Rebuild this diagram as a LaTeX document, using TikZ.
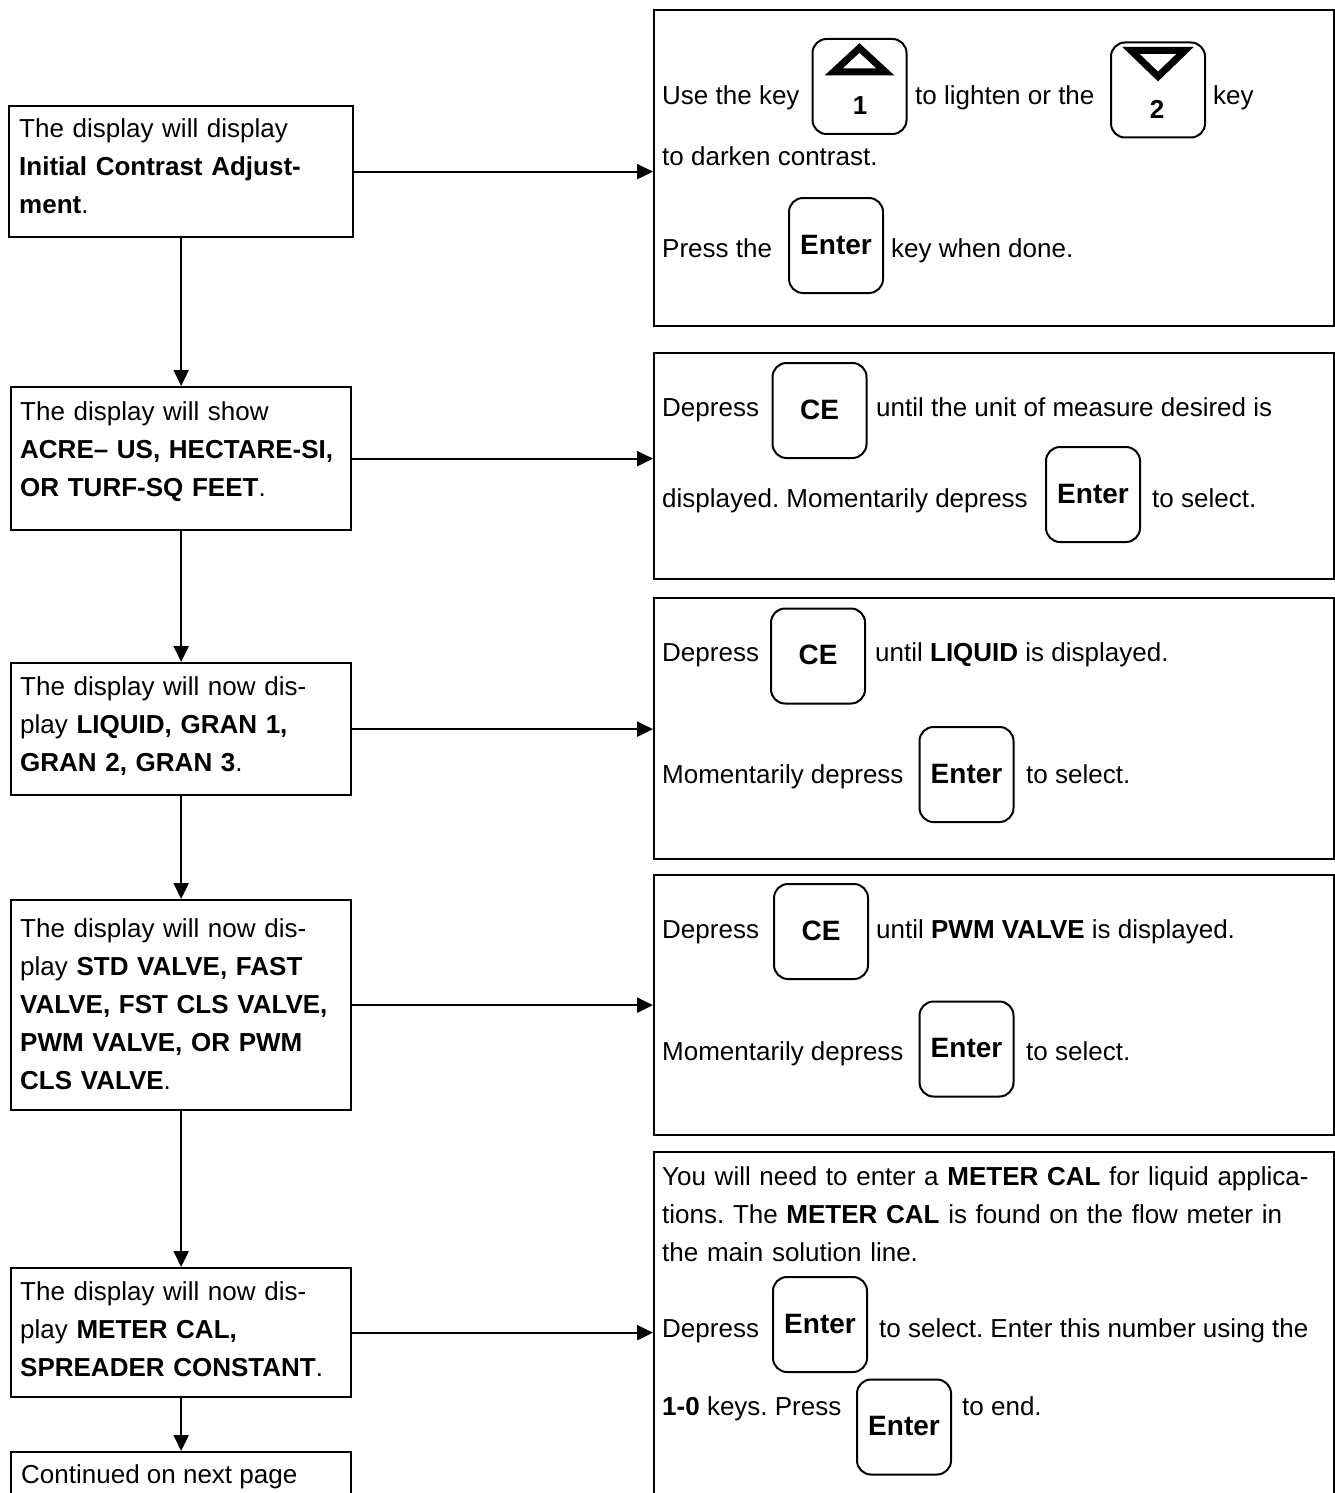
\documentclass[tikz,border=0pt]{standalone}
\usepackage{fontspec}
\setmainfont{Liberation Sans}
\usetikzlibrary{arrows.meta,positioning,calc}
\frenchspacing

\begin{document}
\begin{tikzpicture}[x=1pt, y=-1pt,
  txt/.style={anchor=base west, inner sep=0pt, font=\fontsize{26}{38}\selectfont},
  para/.style={txt, text width=#1, align=left},
  panel/.style={draw, line width=2.3pt, anchor=north west, inner sep=0pt},
  keycap/.style={draw, line width=2pt, rounded corners=14pt, minimum width=94pt, minimum height=95pt, inner sep=0pt, font=\bfseries\fontsize{28}{30}\selectfont, text height=17pt, text depth=0pt},
  keynum/.style={anchor=base, inner sep=0pt, font=\bfseries\fontsize{26}{30}\selectfont},
  tri/.style={line width=7pt, line join=miter},
  arr/.style={-{Triangle[length=16pt,width=15pt]}, line width=2.3pt},
]
  \useasboundingbox (0,0) rectangle (1335,1493);

  \node[panel, minimum width=344pt, minimum height=131pt] (d1) at (8,105) {};
  \node[panel, minimum width=340pt, minimum height=143pt] (d2) at (10,386) {};
  \node[panel, minimum width=340pt, minimum height=132pt] (d3) at (10,662) {};
  \node[panel, minimum width=340pt, minimum height=210pt] (d4) at (10,899) {};
  \node[panel, minimum width=340pt, minimum height=129pt] (d5) at (10,1267) {};
  \node[panel, minimum width=340pt, minimum height=100pt] (d6) at (10,1451) {};

  \node[para=330pt] (t1) at (19,137) {The display will display\\\textbf{Initial Contrast Adjust-}\\\textbf{ment}.};
  \node[para=330pt] (t2) at (20,420) {The display will show\\\textbf{ACRE– US, HECTARE-SI,}\\\textbf{OR TURF-SQ FEET}.};
  \node[para=330pt] (t3) at (20,695) {The display will now dis-\\play \textbf{LIQUID, GRAN 1,}\\\textbf{GRAN 2, GRAN 3}.};
  \node[para=330pt] (t4) at (20,937) {The display will now dis-\\play \textbf{STD VALVE, FAST}\\\textbf{VALVE, FST CLS VALVE,}\\\textbf{PWM VALVE, OR PWM}\\\textbf{CLS VALVE}.};
  \node[para=330pt] (t5) at (20,1300) {The display will now dis-\\play \textbf{METER CAL,}\\\textbf{SPREADER CONSTANT}.};
  \node[txt] (t6) at (21,1483) {Continued on next page};

  \node[panel, minimum width=680pt, minimum height=316pt] (r1) at (653,9) {};
  \node[panel, minimum width=680pt, minimum height=226pt] (r2) at (653,352) {};
  \node[panel, minimum width=680pt, minimum height=261pt] (r3) at (653,597) {};
  \node[panel, minimum width=680pt, minimum height=260pt] (r4) at (653,874) {};
  \node[panel, minimum width=680pt, minimum height=400pt] (r5) at (653,1151) {};

  \node[txt] (s1a) at (662,105) {Use the key};
  \node[keycap] (up) at (859.5,86.5) {};
  \draw[tri] ($(up.north)+(0,10)$) -- ++(-26,24) -- ++(52,0) -- cycle;
  \node[keynum] (n1) at (860,115) {1};
  \node[txt] (s1b) at (915,105) {to lighten or the};
  \node[keycap] (down) at (1158,90) {};
  \draw[tri] ($(down.north)+(-27,9)$) -- ++(54,0) -- ++(-27,26) -- cycle;
  \node[keynum] (n2) at (1157,118) {2};
  \node[txt] (s1c) at (1213,105) {key};
  \node[txt] (s1d) at (662,165) {to darken contrast.};
  \node[txt] (s1e) at (662,257) {Press the};
  \node[keycap] (e1) at (836,245.5) {Enter};
  \node[txt] (s1f) at (891,257) {key when done.};

  \node[txt] (s2a) at (662,416) {Depress};
  \node[keycap] (ce2) at (819.5,410.5) {CE};
  \node[txt] (s2b) at (876,416) {until the unit of measure desired is};
  \node[txt] (s2c) at (662,507) {displayed. Momentarily depress};
  \node[keycap] (e2) at (1093,494.5) {Enter};
  \node[txt] (s2d) at (1152,507) {to select.};

  \node[txt] (s3a) at (662,661) {Depress};
  \node[keycap] (ce3) at (818,656) {CE};
  \node[txt] (s3b) at (875,661) {until \textbf{LIQUID} is displayed.};
  \node[txt] (s3c) at (662,783) {Momentarily depress};
  \node[keycap] (e3) at (966.5,774.5) {Enter};
  \node[txt] (s3d) at (1026,783) {to select.};

  \node[txt] (s4a) at (662,938) {Depress};
  \node[keycap] (ce4) at (821,931.5) {CE};
  \node[txt] (s4b) at (876,938) {until \textbf{PWM VALVE} is displayed.};
  \node[txt] (s4c) at (662,1060) {Momentarily depress};
  \node[keycap] (e4) at (966.5,1049) {Enter};
  \node[txt] (s4d) at (1026,1060) {to select.};

  \node[para=665pt] (s5a) at (662,1185) {You will need to enter a \textbf{METER CAL} for liquid applica-\\tions. The \textbf{METER CAL} is found on the flow meter in\\the main solution line.};
  \node[txt] (s5b) at (662,1337) {Depress};
  \node[keycap] (e5) at (820,1324.5) {Enter};
  \node[txt] (s5c) at (879,1337) {to select. Enter this number using the};
  \node[txt] (s5d) at (662,1415) {\textbf{1-0} keys. Press};
  \node[keycap] (e6) at (904,1427) {Enter};
  \node[txt] (s5e) at (962,1415) {to end.};

  \draw[arr] (d1.south) -- (d2.north);
  \draw[arr] (d2.south) -- (d3.north);
  \draw[arr] (d3.south) -- (d4.north);
  \draw[arr] (d4.south) -- (d5.north);
  \draw[arr] (d5.south) -- (d6.north);
  \draw[arr] (d1.east) -- (d1.east -| r1.west);
  \draw[arr] (d2.east) -- (d2.east -| r2.west);
  \draw[arr] (d3.east) -- (d3.east -| r3.west);
  \draw[arr] (d4.east) -- (d4.east -| r4.west);
  \draw[arr] (d5.east) -- (d5.east -| r5.west);
\end{tikzpicture}
\end{document}
